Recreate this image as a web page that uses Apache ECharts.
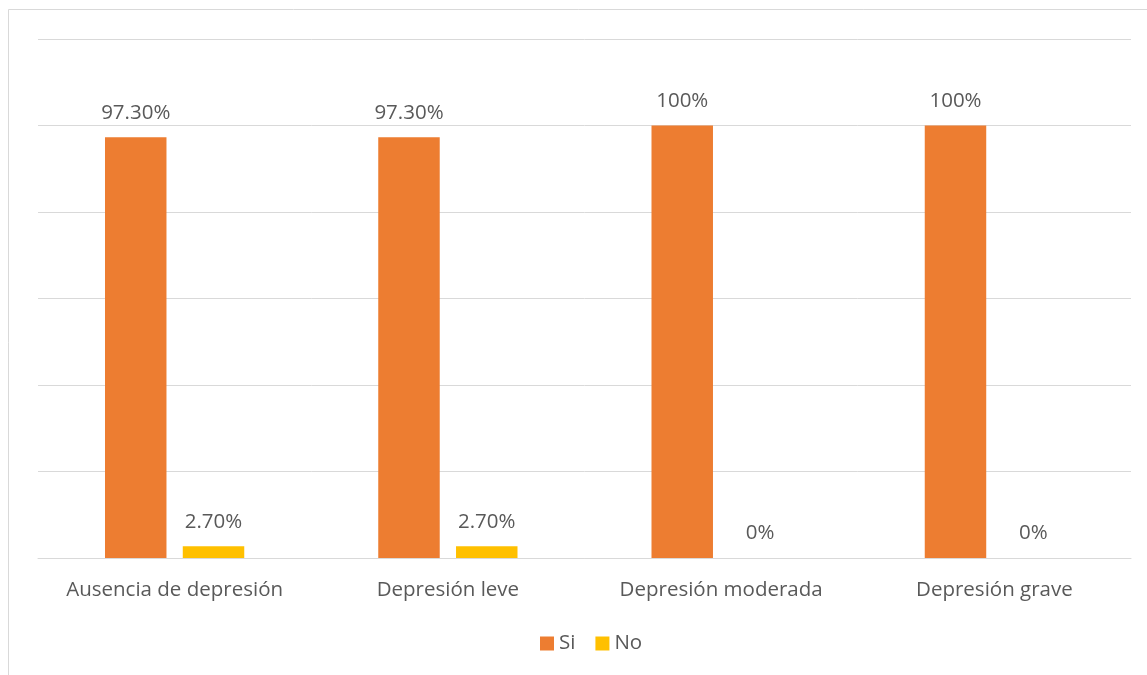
<!DOCTYPE html>
<html>
<head>
<meta charset="utf-8">
<script src="https://cdn.jsdelivr.net/npm/echarts@6/dist/echarts.min.js"></script>
<style>
  html, body { margin: 0; padding: 0; background: #fff; }
  #chart { width: 1147px; height: 675px; }
</style>
</head>
<body>
<div id="chart"></div>
<script>
// Categories and percentages per response
const categories = ['Ausencia de depresión', 'Depresión leve', 'Depresión moderada', 'Depresión grave'];
const siValues = [97.3, 97.3, 100, 100];
const noValues = [2.7, 2.7, 0, 0];
const siLabels = ['97.30%', '97.30%', '100%', '100%'];
const noLabels = ['2.70%', '2.70%', '0%', '0%'];

const textColor = '#595959';
const fontFamily = '"Open Sans", "Noto Sans", sans-serif';
const fontSize = 20.5;

const chart = echarts.init(document.getElementById('chart'), null, { renderer: 'canvas' });

function labelFor(texts) {
  return {
    show: true,
    position: 'top',
    distance: 14,
    color: textColor,
    fontFamily: fontFamily,
    fontSize: fontSize,
    formatter: p => texts[p.dataIndex]
  };
}

chart.setOption({
  animation: false,
  backgroundColor: '#fff',
  graphic: [{
    type: 'rect',
    shape: { x: 8.5, y: 9.5, width: 1160, height: 700 },
    style: { fill: 'none', stroke: '#D9D9D9', lineWidth: 1 },
    silent: true
  }],
  grid: { left: 38, right: 16, top: 39, bottom: 117, containLabel: false },
  legend: {
    data: ['Si', 'No'],
    bottom: 16,
    left: 535,
    itemWidth: 14,
    itemHeight: 14,
    itemGap: 20,
    icon: 'rect',
    textStyle: { color: textColor, fontFamily: fontFamily, fontSize: fontSize }
  },
  xAxis: {
    type: 'category',
    data: categories,
    axisLine: { show: true, lineStyle: { color: '#D9D9D9', width: 1 } },
    axisTick: { show: false },
    axisLabel: { color: textColor, fontFamily: fontFamily, fontSize: fontSize, margin: 22, interval: 0 }
  },
  yAxis: {
    type: 'value',
    min: 0,
    max: 120,
    interval: 20,
    axisLine: { show: false },
    axisTick: { show: false },
    axisLabel: { show: false },
    splitLine: { lineStyle: { color: '#D9D9D9', width: 1 } }
  },
  series: [
    {
      name: 'Si',
      type: 'bar',
      data: siValues,
      barWidth: '22.5%',
      barGap: '26.5%',
      itemStyle: { color: '#ED7D31' },
      label: labelFor(siLabels)
    },
    {
      name: 'No',
      type: 'bar',
      data: noValues,
      barWidth: '22.5%',
      itemStyle: { color: '#FFC000' },
      label: labelFor(noLabels)
    }
  ]
});
</script>
</body>
</html>
